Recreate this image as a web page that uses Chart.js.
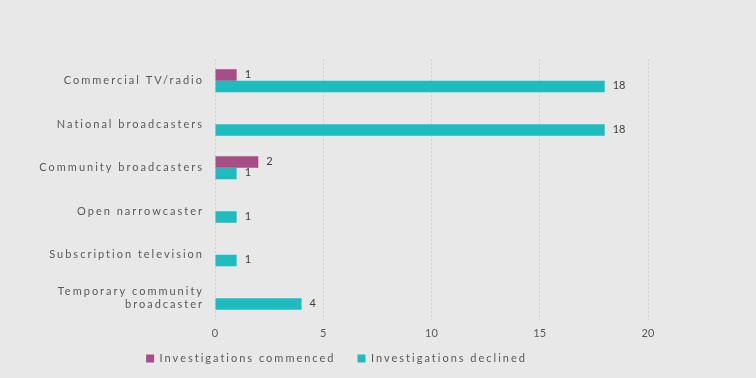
<!DOCTYPE html>
<html>
<head>
<meta charset="utf-8">
<script src="https://cdn.jsdelivr.net/npm/chart.js@4"></script>
<style>
html,body{margin:0;padding:0;background:#e8e8e8;}
#wrap{width:756px;height:378px;position:relative;}
</style>
</head>
<body>
<div id="wrap"><canvas id="c" width="756" height="378"></canvas></div>
<script>
const categories = [
  "Commercial TV/radio",
  "National broadcasters",
  "Community broadcasters",
  "Open narrowcaster",
  "Subscription television",
  ["Temporary community", "broadcaster"]
];
const commenced = [1, null, 2, null, null, null];
const declined = [18, 18, 1, 1, 1, 4];
const xTicks = [0, 5, 10, 15, 20];

const FONT = "Lato, 'Open Sans', sans-serif";

// y labels and legend drawn with letter spacing; x tick labels without
const spacingPlugin = {
  id: 'spacing',
  beforeUpdate(chart) { chart.ctx.letterSpacing = '2px'; },
  beforeLayout(chart) { chart.ctx.letterSpacing = '2px'; },
  beforeDraw(chart) { chart.ctx.letterSpacing = '2px'; }
};

const valueLabels = {
  id: 'valueLabels',
  afterDatasetsDraw(chart) {
    const ctx = chart.ctx;
    ctx.save();
    ctx.letterSpacing = '0px';
    ctx.font = "11px " + FONT;
    ctx.fillStyle = '#404040';
    ctx.textAlign = 'left';
    ctx.textBaseline = 'middle';
    chart.data.datasets.forEach((ds, i) => {
      const meta = chart.getDatasetMeta(i);
      meta.data.forEach((bar, j) => {
        const v = ds.data[j];
        if (v === null || v === undefined) return;
        ctx.fillText(String(v), bar.x + 8, bar.y - 1);
      });
    });
    ctx.restore();
    ctx.letterSpacing = '0px';
  }
};

new Chart(document.getElementById('c'), {
  type: 'bar',
  data: {
    labels: categories,
    datasets: [
      { label: 'Investigations commenced', data: commenced, backgroundColor: '#a64f86' },
      { label: 'Investigations declined', data: declined, backgroundColor: '#1fbcbf' }
    ]
  },
  options: {
    indexAxis: 'y',
    responsive: false,
    animation: false,
    layout: { padding: { top: 59, right: 108, left: 25, bottom: 4 } },
    datasets: { bar: { categoryPercentage: 0.53, barPercentage: 1 } },
    scales: {
      x: {
        min: 0, max: 20,
        afterBuildTicks(scale) { scale.ticks = xTicks.map(v => ({ value: v })); },
        afterFit(scale) {
          scale.height = 11;
          scale._computeLabelArea = () => undefined; // let tick labels extend into legend padding
        },
        grid: { color: '#cfcfcf', drawTicks: false, tickLength: 0 },
        border: { display: false, dash: [2, 2] },
        ticks: { color: '#595959', font: { family: FONT, size: 11 }, padding: 7, z: 1 }
      },
      y: {
        grid: { display: false },
        border: { display: false },
        afterFit(scale) { scale.width = 190; },
        ticks: { color: '#595959', font: { family: FONT, size: 11 }, padding: 3 }
      }
    },
    plugins: {
      legend: {
        position: 'bottom',
        labels: { boxWidth: 8, boxHeight: 8, color: '#595959', font: { family: FONT, size: 11 }, padding: 22 }
      },
      tooltip: { enabled: false }
    }
  },
  plugins: [spacingPlugin, valueLabels]
});
</script>
</body>
</html>
